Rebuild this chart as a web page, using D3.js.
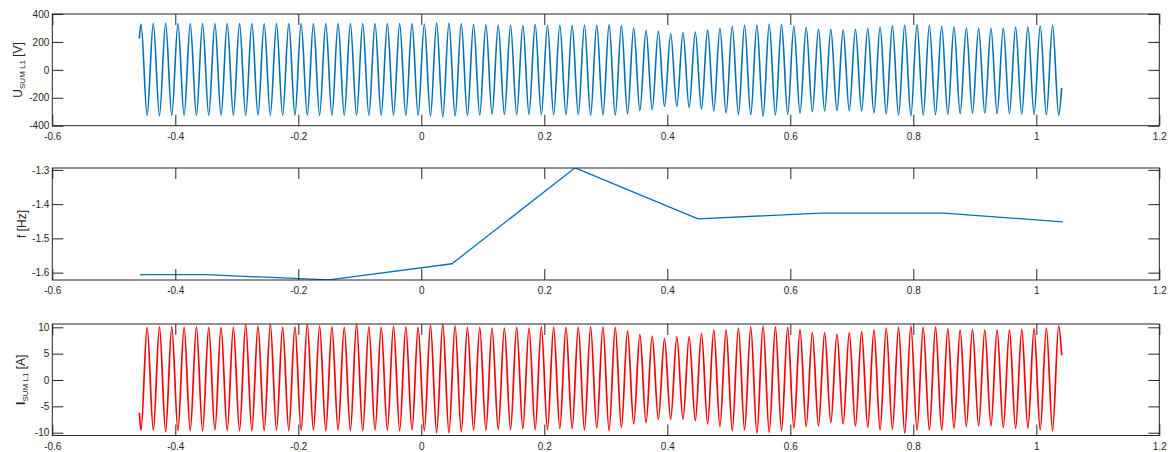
<!DOCTYPE html>
<html>
<head>
<meta charset="utf-8">
<script src="https://cdn.jsdelivr.net/npm/d3@7"></script>
<style>
  html, body { margin: 0; padding: 0; background: #fff; }
  svg { display: block; font-family: "Liberation Sans", Arial, Helvetica, sans-serif; }
</style>
</head>
<body>
<svg id="chart" width="1168" height="452"></svg>
<script>
// ---------------- DATA ----------------
const xTickValues = [-0.6, -0.4, -0.2, 0, 0.2, 0.4, 0.6, 0.8, 1, 1.2];
const xTickLabels = ["-0.6", "-0.4", "-0.2", "0", "0.2", "0.4", "0.6", "0.8", "1", "1.2"];

const uTickValues = [-400, -200, 0, 200, 400];
const uTickLabels = ["-400", "-200", "0", "200", "400"];
const fTickValues = [-1.6, -1.5, -1.4, -1.3];
const fTickLabels = ["-1.6", "-1.5", "-1.4", "-1.3"];
const iTickValues = [-10, -5, 0, 5, 10];
const iTickLabels = ["-10", "-5", "0", "5", "10"];

// time of first/last sample, first extreme, and signal period [s]
const signalTimes = [-0.4585, 1.0413];
const firstExtremeTime = [-0.4558];
const periodS = [0.02003];

// U_SUM L1 [V]: start/end sample, positive peak of each cycle, following trough
const uEnds = [224, -129];
const uPeaks = [328, 333, 333, 331, 331, 331, 331, 331, 331, 331, 331, 331, 331, 331, 331, 331, 331, 331, 331, 331,
  331, 331, 331, 328, 336, 336, 331, 326, 324, 321, 319, 319, 324, 319, 319, 319, 321, 321, 324, 317,
  300, 283, 276, 259, 267, 271, 286, 298, 312, 319, 321, 328, 326, 314, 305, 293, 290, 286, 290, 298,
  307, 317, 321, 324, 319, 314, 309, 302, 298, 298, 300, 305, 309, 314, 319];
const uTroughs = [-326, -329, -326, -326, -326, -326, -326, -326, -326, -326, -326, -326, -324, -326, -326, -326, -326, -326, -326, -326,
  -326, -326, -326, -331, -338, -331, -326, -324, -319, -319, -322, -319, -319, -322, -322, -319, -326, -324, -326, -314,
  -293, -286, -262, -262, -269, -283, -295, -310, -319, -322, -334, -324, -319, -310, -300, -295, -293, -293, -295, -310,
  -314, -324, -329, -324, -319, -319, -314, -312, -310, -314, -314, -319, -319, -322, -324];

// f [Hz]
const fTimes = [-0.4575, -0.35, -0.15, 0.05, 0.25, 0.45, 0.65, 0.85, 1.043];
const fValues = [-1.606, -1.606, -1.621, -1.574, -1.294, -1.443, -1.426, -1.426, -1.452];

// I_SUM L1 [A]: start/end sample, trough of each cycle, following positive peak
const iEnds = [-6.2, 4.7];
const iTroughs = [-9.5, -9.5, -9.8, -9.6, -9.6, -9.6, -9.5, -9.6, -9.6, -9.6, -9.6, -9.5, -9.6, -9.5, -9.5, -9.6, -9.5, -9.6, -9.6, -9.5,
  -9.5, -9.6, -9.5, -9.6, -10.0, -10.0, -9.8, -9.5, -9.5, -9.4, -9.4, -9.2, -9.4, -9.4, -9.2, -9.2, -9.5,
  -9.17, -9.6, -9.0, -8.35, -8.1, -7.46, -7.46, -7.46, -7.7, -8.35, -8.85, -9.6, -9.49, -10.1, -9.93, -9.6, -9.17, -8.85, -8.73,
  -8.1, -8.35, -8.73, -9.0, -9.49, -9.36, -10.1, -9.49, -9.49, -9.49, -9.17, -8.85, -8.73, -8.73, -9.0, -9.17, -9.17, -9.49, -9.6];
const iPeaks = [10.0, 10.1, 10.1, 10.0, 10.1, 10.0, 10.0, 10.0, 10.5, 10.25, 10.6, 10.0, 10.1, 10.6, 10.25, 10.1, 10.0, 10.6, 10.1, 10.0,
  10.25, 10.1, 10.0, 10.4, 10.6, 10.25, 10.0, 10.0, 9.87, 9.87, 10.0, 9.87, 10.1, 10.0, 10.0, 10.0, 10.1,
  10.1, 10.0, 9.36, 8.67, 8.35, 7.84, 8.22, 8.22, 8.85, 9.5, 9.5, 9.87, 10.1, 10.25, 10.1, 10.0, 9.6, 8.98, 8.98,
  8.73, 8.98, 9.17, 9.5, 9.87, 10.0, 10.25, 10.0, 10.1, 9.74, 9.5, 9.6, 9.5, 9.5, 9.5, 9.6, 9.74, 9.87, 10.25];

// ---------------- LAYOUT ----------------
const svg = d3.select("#chart");
const axisColor = "#262626";
const L = 52.3, R = 1159.3;
const panels = [
  { top: 14, bottom: 125.7 },
  { top: 168, bottom: 280 },
  { top: 324, bottom: 435.5 }
];
const tickLen = 11;

const x = d3.scaleLinear().domain([-0.6, 1.2]).range([L, R]);

// Build an extremum sequence (alternating) for a sampled sinusoid
function buildWave(ends, first, second) {
  const half = periodS[0] / 2;
  const pts = [{ t: signalTimes[0], v: ends[0] }];
  for (let k = 0; k < first.length; k++) {
    pts.push({ t: firstExtremeTime[0] + 2 * k * half, v: first[k] });
    pts.push({ t: firstExtremeTime[0] + (2 * k + 1) * half, v: second[k] });
  }
  pts.push({ t: signalTimes[1], v: ends[1] });
  return pts.filter(p => p.t <= signalTimes[1]);
}

function drawPanel(idx, yDomain, tickVals, tickLabs, data, color, width, curve) {
  const p = panels[idx];
  const y = d3.scaleLinear().domain(yDomain).range([p.bottom, p.top]);
  const g = svg.append("g");

  const clipId = "clip" + idx;
  svg.append("clipPath").attr("id", clipId).append("rect")
    .attr("x", L).attr("y", p.top).attr("width", R - L).attr("height", p.bottom - p.top);

  g.append("path")
    .datum(data)
    .attr("clip-path", `url(#${clipId})`)
    .attr("fill", "none")
    .attr("stroke", color)
    .attr("stroke-width", width)
    .attr("stroke-linejoin", "round")
    .attr("d", d3.line().x(d => x(d.t)).y(d => y(d.v)).curve(curve));

  const fmtX = v => xTickLabels[xTickValues.indexOf(v)];
  const fmtY = v => tickLabs[tickVals.indexOf(v)];

  const gb = g.append("g").attr("transform", `translate(0,${p.bottom})`)
    .call(d3.axisBottom(x).tickValues(xTickValues).tickFormat(fmtX).tickSizeInner(-tickLen).tickSizeOuter(0).tickPadding(7));
  const gt = g.append("g").attr("transform", `translate(0,${p.top})`)
    .call(d3.axisTop(x).tickValues(xTickValues).tickFormat("").tickSizeInner(-tickLen).tickSizeOuter(0));
  const gl = g.append("g").attr("transform", `translate(${L},0)`)
    .call(d3.axisLeft(y).tickValues(tickVals).tickFormat(fmtY).tickSizeInner(-tickLen).tickSizeOuter(0).tickPadding(3));
  const gr = g.append("g").attr("transform", `translate(${R},0)`)
    .call(d3.axisRight(y).tickValues(tickVals).tickFormat("").tickSizeInner(-tickLen).tickSizeOuter(0));

  [gb, gt, gl, gr].forEach(a => {
    a.select(".domain").remove();
    a.selectAll("line").attr("stroke", axisColor).attr("stroke-width", 1);
    a.selectAll("text").attr("fill", axisColor).attr("font-size", 10)
      .attr("font-family", "'Liberation Sans', Arial, Helvetica, sans-serif");
  });

  g.append("rect")
    .attr("x", L).attr("y", p.top).attr("width", R - L).attr("height", p.bottom - p.top)
    .attr("fill", "none").attr("stroke", axisColor).attr("stroke-width", 1);
  return g;
}

const uData = buildWave(uEnds, uPeaks, uTroughs);
const iData = buildWave(iEnds, iTroughs, iPeaks);
const fData = fTimes.map((t, i) => ({ t, v: fValues[i] }));

drawPanel(0, [-400, 400], uTickValues, uTickLabels, uData, "#0072BD", 1.6, d3.curveMonotoneX);
drawPanel(1, [-1.6215, -1.2945], fTickValues, fTickLabels, fData, "#0072BD", 1.3, d3.curveLinear);
drawPanel(2, [-10.53, 10.63], iTickValues, iTickLabels, iData, "#FF0000", 1.7, d3.curveMonotoneX);

// ---------------- Y LABELS ----------------
function yLabel(xPos, idx, parts) {
  const p = panels[idx];
  const cy = (p.top + p.bottom) / 2;
  const t = svg.append("text")
    .attr("transform", `translate(${xPos},${cy}) rotate(-90)`)
    .attr("text-anchor", "middle")
    .attr("fill", axisColor)
    .attr("font-size", 12);
  parts.forEach(pt => {
    const s = t.append("tspan").text(pt.text);
    if (pt.sub) s.attr("font-size", 8).attr("dy", 3);
    if (pt.after) s.attr("dy", -3);
    if (pt.bold) s.attr("font-weight", "bold");
  });
}
yLabel(22, 0, [{ text: "U" }, { text: "SUM L1", sub: true }, { text: " [V]", after: true }]);
yLabel(26, 1, [{ text: "f [Hz]" }]);
yLabel(25, 2, [{ text: "I", bold: true }, { text: "SUM L1", sub: true }, { text: " [A]", after: true }]);
</script>
</body>
</html>
